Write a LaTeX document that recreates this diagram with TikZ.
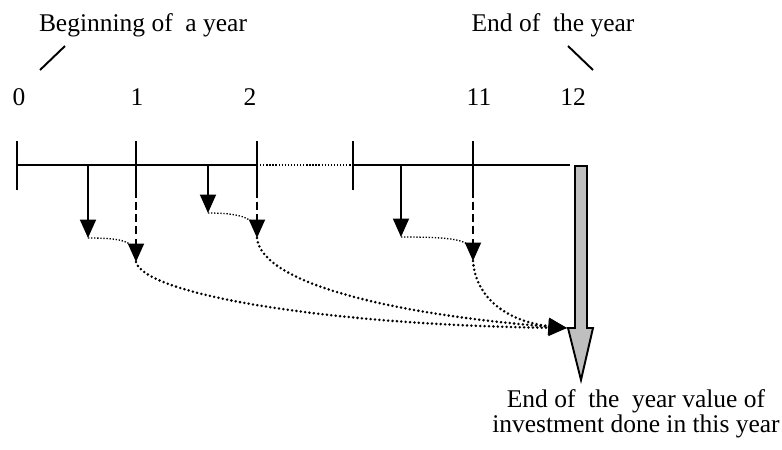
\documentclass[tikz,border=0pt]{standalone}
\usepackage{fontspec}
\setmainfont{Liberation Serif}
\usetikzlibrary{arrows.meta}

\begin{document}
\begin{tikzpicture}[x=0.02cm, y=-0.02cm,
  every node/.style={font=\fontsize{14.5}{12.5}\selectfont, inner sep=0pt},
  axis/.style={line width=1.1pt},
  arr/.style={-{Triangle[length=0.37cm, width=0.32cm]}, line width=1.1pt},
  dsh/.style={arr, dash pattern=on 4.5pt off 2.5pt},
  fine/.style={line width=0.75pt, dash pattern=on 0.75pt off 1pt},
  dots/.style={arr, line width=1.6pt, line cap=round, dash pattern=on 0pt off 2.5pt}
]
\useasboundingbox (0,0) rectangle (782,450);

% labels
\node (begin) at (143,25) {Beginning of~ a year};
\node (endyr) at (553,25) {End of~ the year};
\node (n0)  at (19,97)  {0};
\node (n1)  at (137,97) {1};
\node (n2)  at (250,97) {2};
\node (n11) at (479,97) {11};
\node (n12) at (573,97) {12};
\node[align=center] (value) at (636,414) {End of~ the~ year value of\\investment done in this year};
\draw[axis] (65,46) -- (40,70);
\draw[axis] (568,46) -- (593,70);

% time line
\coordinate (m0)  at (17,165);
\coordinate (m1)  at (136,165);
\coordinate (m2)  at (257,165);
\coordinate (m10) at (353,165);
\coordinate (m11) at (473,165);
\coordinate (m12) at (570,165);
\draw[axis] (m0) -- (m2);
\draw[fine] (m2) -- (m10);
\draw[axis] (m10) -- (m12);
\foreach \m in {m0,m1,m2,m10,m11}
  \draw[axis] ([yshift=0.48cm]\m) -- ([yshift=-0.5cm]\m);

% investments and month-end values
\coordinate (i1) at (88,165);  \coordinate (i1e) at (88,238);
\coordinate (i2) at (208,165); \coordinate (i2e) at (208,213);
\coordinate (i3) at (401,165); \coordinate (i3e) at (401,237);
\coordinate (v1) at (136,262); \coordinate (v1h) at (135,250);
\coordinate (v2) at (257,238); \coordinate (v2h) at (256,226);
\coordinate (v3) at (473,261); \coordinate (v3h) at (472,249);
\coordinate (fv) at (567,328);
\draw[arr] (i1) -- (i1e);
\draw[arr] (i2) -- (i2e);
\draw[arr] (i3) -- (i3e);
\draw[dsh] (m1) -- (v1);
\draw[dsh] (m2) -- (v2);
\draw[dsh] (m11) -- (v3);
\draw[fine] (i1e) .. controls (124,238) and (130,242) .. (v1h);
\draw[fine] (i2e) .. controls (240,213) and (250,218) .. (v2h);
\draw[fine] (i3e) .. controls (455,237) and (466,240) .. (v3h);
\draw[dots] (v1) .. controls (145,295) and (330,325) .. (fv);
\draw[dots] (v2) .. controls (262,285) and (400,315) .. (fv);
\draw[dots] (v3) .. controls (476,300) and (510,322) .. (fv);

% year-end value
\filldraw[fill=black!25, line width=1.1pt] (575,166) -- (587,166) -- (587,328) -- (593,328)
  -- (581,380) -- (568,328) -- (575,328) -- cycle;
\end{tikzpicture}
\end{document}
